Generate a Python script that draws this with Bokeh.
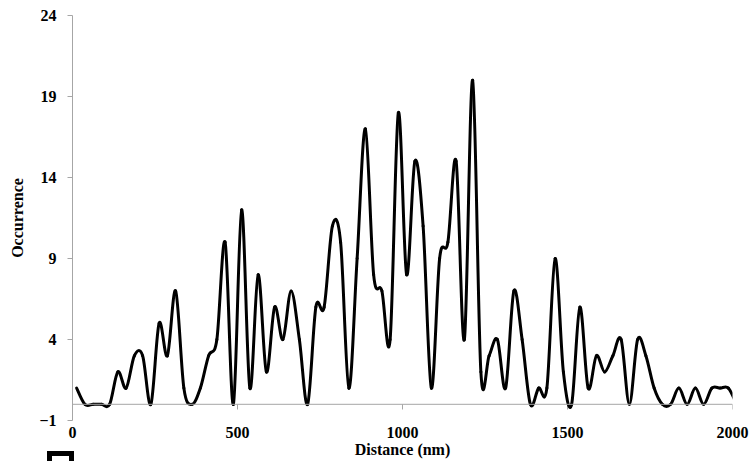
from bokeh.plotting import figure
from bokeh.models import FixedTicker, Span, Label, ColumnDataSource, Range1d
from bokeh.embed import file_html
from bokeh.resources import INLINE

# Bin centres (nm) and counts per bin
distance_nm = [
    12.5, 37.5, 62.5, 87.5, 112.5, 137.5, 162.5, 187.5, 212.5, 237.5,
    262.5, 287.5, 312.5, 337.5, 362.5, 387.5, 412.5, 437.5, 462.5, 487.5,
    512.5, 537.5, 562.5, 587.5, 612.5, 637.5, 662.5, 687.5, 712.5, 737.5,
    762.5, 787.5, 812.5, 837.5, 862.5, 887.5, 912.5, 937.5, 962.5, 987.5,
    1012.5, 1037.5, 1062.5, 1087.5, 1112.5, 1137.5, 1162.5, 1187.5, 1212.5, 1237.5,
    1262.5, 1287.5, 1312.5, 1337.5, 1362.5, 1387.5, 1412.5, 1437.5, 1462.5, 1487.5,
    1512.5, 1537.5, 1562.5, 1587.5, 1612.5, 1637.5, 1662.5, 1687.5, 1712.5, 1737.5,
    1762.5, 1787.5, 1812.5, 1837.5, 1862.5, 1887.5, 1912.5, 1937.5, 1962.5, 1987.5,
    2012.5,
]
occurrence = [
    1, 0, 0, 0, 0, 2, 1, 3, 3, 0,
    5, 3, 7, 1, 0, 1, 3, 4, 10, 0,
    12, 1, 8, 2, 6, 4, 7, 4, 0, 6,
    6, 11, 10, 1, 9, 17, 8, 7, 4, 18,
    8, 15, 11, 1, 9, 10, 15, 4, 20, 2,
    3, 4, 1, 7, 4, 0, 1, 1, 9, 2,
    0, 6, 1, 3, 2, 3, 4, 0, 4, 3,
    1, 0, 0, 1, 0, 1, 0, 1, 1, 1,
    0,
]

x_ticks = [0, 500, 1000, 1500, 2000]
y_ticks = [-1, 4, 9, 14, 19, 24]

# Smoothed line: cubic Bezier segments with Catmull-Rom control points
n = len(distance_nm)
seg = dict(x0=[], y0=[], x1=[], y1=[], cx0=[], cy0=[], cx1=[], cy1=[])
for i in range(n - 1):
    xp, yp = (distance_nm[i - 1], occurrence[i - 1]) if i > 0 else (distance_nm[i], occurrence[i])
    xa, ya = distance_nm[i], occurrence[i]
    xb, yb = distance_nm[i + 1], occurrence[i + 1]
    xn, yn = (distance_nm[i + 2], occurrence[i + 2]) if i + 2 < n else (xb, yb)
    seg["x0"].append(xa); seg["y0"].append(ya)
    seg["x1"].append(xb); seg["y1"].append(yb)
    seg["cx0"].append(xa + (xb - xp) / 6.0); seg["cy0"].append(ya + (yb - yp) / 6.0)
    seg["cx1"].append(xb - (xn - xa) / 6.0); seg["cy1"].append(yb - (yn - ya) / 6.0)
src = ColumnDataSource(seg)

AXIS_GREY = "#a6a6a6"
FONT = "Liberation Serif"

p = figure(width=755, height=461, output_backend="svg", toolbar_location=None,
           x_range=Range1d(0, 2000), y_range=Range1d(-1, 24),
           min_border_left=72, min_border_right=23, min_border_top=15, min_border_bottom=41)
p.outline_line_color = None
p.xgrid.grid_line_color = None
p.ygrid.grid_line_color = None
p.background_fill_color = "white"
p.border_fill_color = "white"

# y axis
yax = p.yaxis[0]
yax.ticker = FixedTicker(ticks=y_ticks)
yax.axis_line_color = AXIS_GREY
yax.major_tick_line_color = AXIS_GREY
yax.major_tick_in = 0
yax.major_tick_out = 5
yax.minor_tick_line_color = None
yax.major_label_standoff = 11
yax.major_label_text_font = FONT
yax.major_label_text_font_style = "bold"
yax.major_label_text_font_size = "16px"
yax.major_label_text_color = "black"
yax.axis_label = "Occurrence"
yax.axis_label_text_font = FONT
yax.axis_label_text_font_style = "bold"
yax.axis_label_text_font_size = "16px"
yax.axis_label_text_color = "black"
yax.axis_label_standoff = 10

# x axis: labels below the frame, axis line drawn at y = 0
xax = p.xaxis[0]
xax.ticker = FixedTicker(ticks=x_ticks)
xax.axis_line_color = None
xax.major_tick_line_color = None
xax.minor_tick_line_color = None
xax.major_label_standoff = 0
xax.major_label_text_font = FONT
xax.major_label_text_font_style = "bold"
xax.major_label_text_font_size = "16px"
xax.major_label_text_color = "black"
xax.axis_label = "Distance (nm)"
xax.axis_label_text_font = FONT
xax.axis_label_text_font_style = "bold"
xax.axis_label_text_font_size = "16px"
xax.axis_label_text_color = "black"
xax.axis_label_standoff = 0

p.add_layout(Span(location=0, dimension="width", line_color=AXIS_GREY, line_width=1))
p.segment(x0=x_ticks, y0=[0] * len(x_ticks), x1=x_ticks, y1=[-0.32] * len(x_ticks),
          line_color=AXIS_GREY, line_width=1)

p.bezier(x0="x0", y0="y0", x1="x1", y1="y1", cx0="cx0", cy0="cy0", cx1="cx1", cy1="cy1",
         source=src, line_color="black", line_width=3, line_cap="round")

# small open square marker under the axis corner (kept in the right-hand panel,
# which is not clipped to the plot frame; coordinates are relative to that panel)
p.add_layout(Label(x=-683, y=-33, x_units="screen", y_units="screen",
                   text="\u2003", text_font_size="12px",
                   text_align="left", text_baseline="top", padding=5,
                   border_line_color="black", border_line_width=5,
                   border_line_join="miter",
                   background_fill_color=None), "right")

open("out.html", "w").write(file_html(p, INLINE))
